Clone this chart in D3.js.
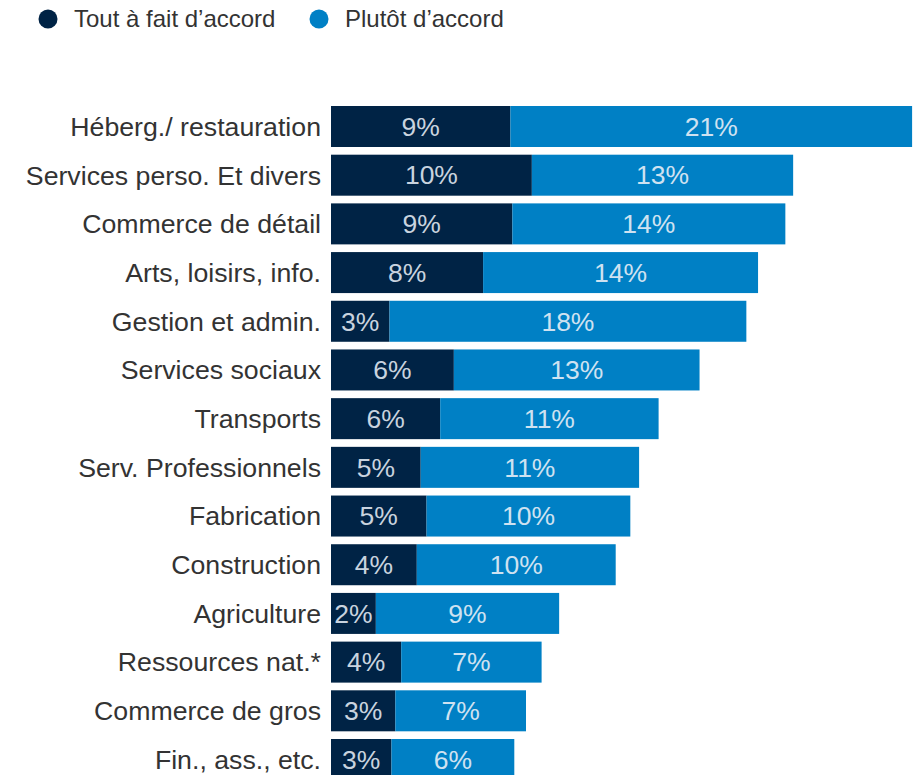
<!DOCTYPE html>
<html><head><meta charset="utf-8">
<script src="https://cdn.jsdelivr.net/npm/d3@7"></script>
<style>body{margin:0;background:#fff}svg{display:block}</style>
</head><body><svg id="c" width="920" height="775"></svg>
<script>
const categories = ["Héberg./ restauration","Services perso. Et divers","Commerce de détail","Arts, loisirs, info.","Gestion et admin.","Services sociaux","Transports","Serv. Professionnels","Fabrication","Construction","Agriculture","Ressources nat.*","Commerce de gros","Fin., ass., etc."];
const toutAFait = [9.2,10.3,9.3,7.8,3.0,6.3,5.6,4.6,4.9,4.4,2.3,3.6,3.3,3.1];
const plutot = [20.6,13.4,14.0,14.1,18.3,12.6,11.2,11.2,10.45,10.2,9.4,7.2,6.7,6.3];
const seriesNames = ["Tout à fait d’accord","Plutôt d’accord"];
const colors = ["#002345","#0080C5"];

const svg = d3.select("#c");
const font = "'Liberation Sans', Arial, sans-serif";
const x = d3.scaleLinear().domain([0,30]).range([331,916]);
const y = d3.scaleBand().domain(categories).range([106,780]).paddingInner(0.158).paddingOuter(0);

const rows = categories.map((c,i)=>({c, v:[toutAFait[i], plutot[i]]}));
const g = svg.append("g");
rows.forEach(r=>{
  let acc = 0;
  r.v.forEach((v,k)=>{
    const x0 = x(acc), x1 = x(acc+v);
    g.append("rect").attr("x",x0).attr("y",y(r.c)).attr("width",x1-x0).attr("height",y.bandwidth()).attr("fill",colors[k]);
    g.append("text").attr("x",(x0+x1)/2).attr("y",y(r.c)+y.bandwidth()/2).attr("dy","0.35em")
      .attr("text-anchor","middle").attr("font-family",font).attr("font-size",26.5)
      .attr("fill", k===0 ? "#c9d3df" : "#cfe2f1").text(Math.round(v)+"%");
    acc += v;
  });
  g.append("text").attr("x",321).attr("y",y(r.c)+y.bandwidth()/2).attr("dy","0.35em")
    .attr("text-anchor","end").attr("font-family",font).attr("font-size",26.7).attr("fill","#333")
    .text(r.c);
});

// legend
const lx = [48, 319];
seriesNames.forEach((n,k)=>{
  svg.append("circle").attr("cx",lx[k]).attr("cy",19).attr("r",9.5).attr("fill",colors[k]);
  svg.append("text").attr("x",lx[k]+26).attr("y",19).attr("dy","0.35em").attr("font-family",font)
    .attr("font-size",24).attr("fill","#333").text(n);
});
</script></body></html>
